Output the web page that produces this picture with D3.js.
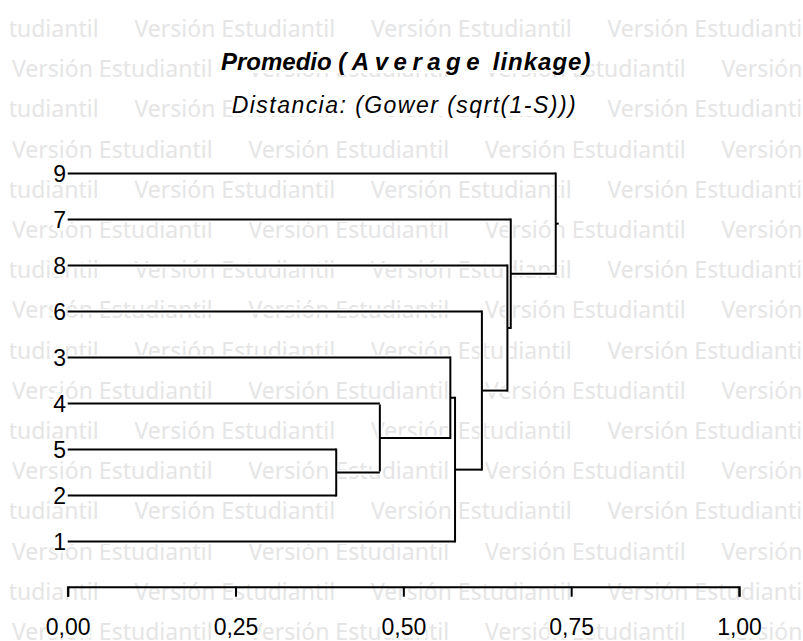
<!DOCTYPE html>
<html>
<head>
<meta charset="utf-8">
<script src="https://cdn.jsdelivr.net/npm/d3@7/dist/d3.min.js"></script>
<style>
  body { margin: 0; background: #fff; }
  svg { display: block; }
</style>
</head>
<body>
<div id="container"></div>
<script>
// leaves, top to bottom, as they appear on the dendrogram
const leafOrder = ["9", "7", "8", "6", "3", "4", "5", "2", "1"];

// merge steps: "Ck" is the cluster made at step k (1-based)
const mergeLeft   = ["5", "C1", "3", "C3", "6", "8", "7", "9"];
const mergeRight  = ["2", "4", "C2", "1", "C4", "C5", "C6", "C7"];
const mergeHeight = [0.400, 0.465, 0.570, 0.577, 0.617, 0.655, 0.660, 0.727];

const tickValues = [0, 0.25, 0.5, 0.75, 1];

const width = 803, height = 641;

const svg = d3.select("#container")
  .append("svg")
  .attr("width", width)
  .attr("height", height)
  .style("font-family", "'Liberation Sans', Arial, sans-serif");

svg.append("clipPath").attr("id", "wmclip")
  .append("rect").attr("x", 10).attr("y", 0).attr("width", width).attr("height", height);

// watermark "Versión Estudiantil"
const wm = svg.append("g")
  .attr("clip-path", "url(#wmclip)")
  .attr("fill", "#e5e5e5")
  .style("font-family", "'Noto Sans', sans-serif")
  .style("font-size", "23px");
const wmPeriod = 236.5;
for (let r = 0; r < 16; r++) {
  const y = 37 + r * 40.2;
  const start = r % 2 === 0 ? -102 : 12;
  for (let x = start; x < width; x += wmPeriod) {
    wm.append("text").attr("x", x).attr("y", y).text("Versión Estudiantil");
  }
}

const x = d3.scaleLinear().domain([0, 1]).range([67.7, 739]);
const yLeaf = d3.scalePoint().domain(leafOrder).range([173.5, 541.5]);

// positions of leaves and clusters
const pos = {};
leafOrder.forEach(function(l) { pos[l] = { x: x(0), y: yLeaf(l) }; });
mergeLeft.forEach(function(a, i) {
  const b = mergeRight[i];
  pos["C" + (i + 1)] = { x: x(mergeHeight[i]), y: (pos[a].y + pos[b].y) / 2 };
});

// build segment list once, draw it twice (white halo, then black)
const segs = [];
mergeLeft.forEach(function(a, i) {
  const b = mergeRight[i];
  const hx = x(mergeHeight[i]);
  [a, b].forEach(function(c) {
    segs.push([pos[c].x, pos[c].y, hx, pos[c].y]);
  });
  segs.push([hx, pos[a].y - 1, hx, pos[b].y + 1]);
});
const root = pos["C" + mergeLeft.length];
segs.push([root.x, root.y, root.x + 3, root.y]);

[["#fff", 5], ["#000", 2]].forEach(function(st) {
  svg.append("g")
    .attr("stroke", st[0])
    .attr("stroke-width", st[1])
    .selectAll("line")
    .data(segs)
    .enter().append("line")
    .attr("x1", function(d) { return d[0]; })
    .attr("y1", function(d) { return d[1]; })
    .attr("x2", function(d) { return d[2]; })
    .attr("y2", function(d) { return d[3]; });
});

// white box behind a text, like the original output
function backBox(sel) {
  sel.each(function() {
    const b = this.getBBox();
    d3.select(this.parentNode).insert("rect", function() { return this.firstChild; }.bind(this.parentNode))
      .attr("x", b.x).attr("y", b.y + 2).attr("width", b.width).attr("height", b.height - 4)
      .attr("fill", "#fff");
  });
}

// leaf labels
const leafG = svg.append("g")
  .selectAll("g")
  .data(leafOrder)
  .enter().append("g");
const leafText = leafG.append("text")
  .attr("x", 66)
  .attr("y", function(d) { return yLeaf(d) + 8; })
  .attr("text-anchor", "end")
  .style("font-size", "23px")
  .text(function(d) { return d; });
backBox(leafText);

// axis with comma decimals
const es = d3.formatLocale({ decimal: ",", thousands: ".", grouping: [3], currency: ["", "€"] });
const axis = svg.append("g")
  .attr("transform", "translate(0,586.7)")
  .call(d3.axisBottom(x).tickValues(tickValues).tickSize(10).tickPadding(22).tickFormat(es.format(".2f")));
axis.select(".domain").attr("stroke", "#000").attr("stroke-width", 2);
axis.selectAll(".tick line").attr("stroke", "#000").attr("stroke-width", 2);
const tickText = axis.selectAll(".tick text")
  .attr("fill", "#000")
  .style("font-size", "23px")
  .style("font-family", "'Liberation Sans', Arial, sans-serif");
backBox(tickText);

// titles
const titleG = svg.append("g");
const title = titleG.append("text")
  .attr("x", 221)
  .attr("y", 70)
  .style("font-size", "24px")
  .style("font-weight", "bold")
  .style("font-style", "italic");
title.append("tspan").text("Promedio ");
title.append("tspan").style("letter-spacing", "5.5px").text("(Average");
title.append("tspan").style("letter-spacing", "1px").text(" linkage)");
backBox(title);

const subG = svg.append("g");
const sub = subG.append("text")
  .attr("x", 231.7)
  .attr("y", 113)
  .attr("textLength", 344)
  .attr("lengthAdjust", "spacing")
  .style("font-size", "23px")
  .style("font-style", "italic")
  .text("Distancia: (Gower (sqrt(1-S)))");
backBox(sub);
</script>
</body>
</html>
